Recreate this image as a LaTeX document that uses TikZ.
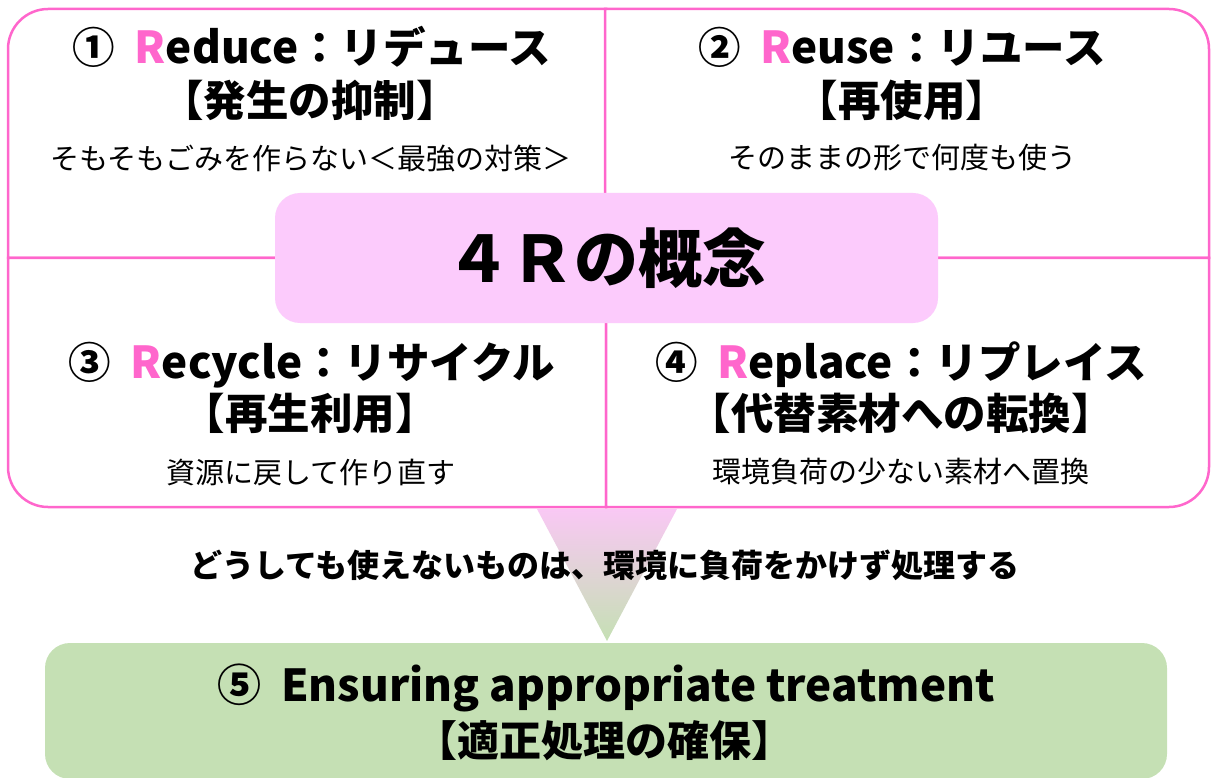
\documentclass[tikz,border=0pt]{standalone}
\usepackage{fontspec}
\setmainfont{Noto Sans CJK JP}
\definecolor{pinkline}{HTML}{FF66CC}
\definecolor{pinkR}{HTML}{FF66CC}
\definecolor{pinkfill}{HTML}{FCCBFC}
\definecolor{pinktri}{HTML}{F9C8F4}
\definecolor{greenfill}{HTML}{C5E0B4}
\newcommand{\lat}[1]{{\fontsize{44}{50}\selectfont #1}}
\newcommand{\pinkR}{\textcolor{pinkR}{R}}
\tikzset{
  quad/.style={draw=pinkline, line width=2.5pt, fill=white},
  ttl/.style={inner sep=0pt, font=\fontsize{42.5}{50}\selectfont\bfseries},
  sub/.style={inner sep=0pt, font=\fontsize{29}{34}\selectfont},
  midtxt/.style={inner sep=0pt, font=\fontsize{32}{38}\selectfont\bfseries},
}
\begin{document}
\begin{tikzpicture}[x=1pt,y=-1pt]
\useasboundingbox (0,0) rectangle (1211,778);
% quadrants
\draw[quad] (606,258) -- (8,258) -- (8,49) .. controls (8,27) and (26,9) .. (48,9) -- (606,9) -- cycle;
\draw[quad] (605,9) -- (1169,9) .. controls (1191,9) and (1209,27) .. (1209,49) -- (1209,258) -- (605,258) -- cycle;
\draw[quad] (606,258) -- (8,258) -- (8,467) .. controls (8,489) and (26,507) .. (48,507) -- (606,507) -- cycle;
\draw[quad] (606,258) -- (606,507) -- (1169,507) .. controls (1191,507) and (1209,489) .. (1209,467) -- (1209,258) -- cycle;
% triangle
\shade[top color=pinktri, bottom color=greenfill] (537,509) -- (677,509) -- (607,641) -- cycle;
% center box
\node[fill=pinkfill, rounded corners=25pt, minimum width=663pt, minimum height=130pt, inner sep=0pt,
  font=\fontsize{64}{72}\selectfont\bfseries] (core) at (606.5,258) {４Ｒの概念};
% quadrant texts
\node[ttl] (t1a) at (312,47) {①\ \ \lat{\pinkR educe}：リデュース};
\node[ttl] (t1b) at (310,100) {【発生の抑制】};
\node[sub] (t1c) at (311,159) {そもそもごみを作らない＜最強の対策＞};
\node[ttl] (t2a) at (902,47) {②\ \ \lat{\pinkR euse}：リユース};
\node[ttl] (t2b) at (902,100) {【再使用】};
\node[sub] (t2c) at (902,158) {そのままの形で何度も使う};
\node[ttl] (t3a) at (312,365) {③\ \ \lat{\pinkR ecycle}：リサイクル};
\node[ttl] (t3b) at (310,413) {【再生利用】};
\node[sub] (t3c) at (311,472) {資源に戻して作り直す};
\node[ttl] (t4a) at (901,365) {④\ \ \lat{\pinkR eplace}：リプレイス};
\node[ttl] (t4b) at (901,413) {【代替素材への転換】};
\node[sub] (t4c) at (901,472) {環境負荷の少ない素材へ置換};
% middle text
\node[midtxt] (mid) at (605,565) {どうしても使えないものは、環境に負荷をかけず処理する};
% green box
\node[fill=greenfill, rounded corners=25pt, minimum width=1122pt, minimum height=136pt, inner sep=0pt] (fin) at (606,711) {};
\node[ttl, font=\fontsize{44}{50}\selectfont\bfseries] (f1) at (606,688) {⑤\ \ Ensuring appropriate treatment};
\node[ttl, font=\fontsize{42}{50}\selectfont\bfseries] (f2) at (604,741) {【適正処理の確保】};
\end{tikzpicture}
\end{document}
